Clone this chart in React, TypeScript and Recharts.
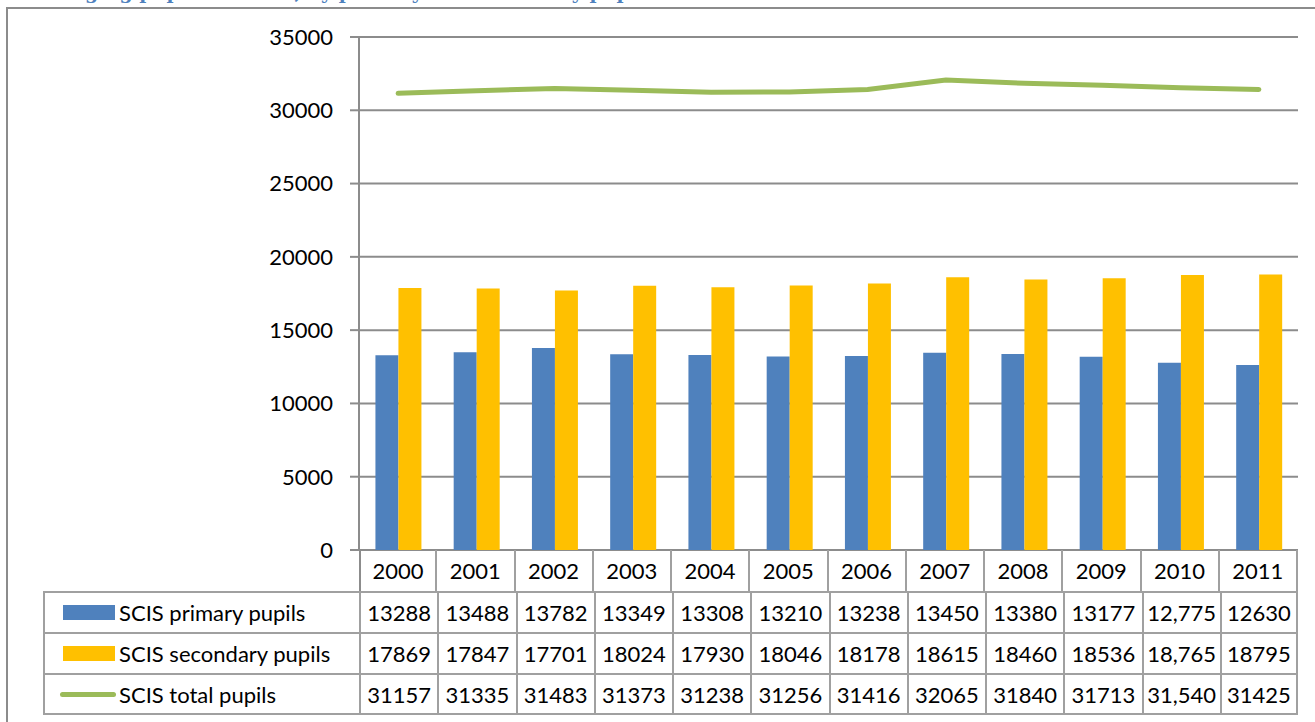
import React from "react";
import { ComposedChart, Bar, Line, XAxis, YAxis, CartesianGrid } from "recharts";

const years = ["2000", "2001", "2002", "2003", "2004", "2005", "2006", "2007", "2008", "2009", "2010", "2011"];
const primaryPupils = [13288, 13488, 13782, 13349, 13308, 13210, 13238, 13450, 13380, 13177, 12775, 12630];
const secondaryPupils = [17869, 17847, 17701, 18024, 17930, 18046, 18178, 18615, 18460, 18536, 18765, 18795];
const totalPupils = [31157, 31335, 31483, 31373, 31238, 31256, 31416, 32065, 31840, 31713, 31540, 31425];
// the source table printed these years with a thousands separator
const commaYears = ["2010"];
const yTicks = [0, 5000, 10000, 15000, 20000, 25000, 30000, 35000];

const seriesRows = [
  { name: "SCIS primary pupils", values: primaryPupils, color: "#4F81BD", kind: "bar" },
  { name: "SCIS secondary pupils", values: secondaryPupils, color: "#FFC000", kind: "bar" },
  { name: "SCIS total pupils", values: totalPupils, color: "#9BBB59", kind: "line" },
];

const data = years.map((year, i) => ({
  year,
  primary: primaryPupils[i],
  secondary: secondaryPupils[i],
  total: totalPupils[i],
}));

const FONT = "Lato, 'Open Sans', sans-serif";
const GRID = "#8c8c8c";
const CELL = "#a0a0a0";
const TABLE_FONT = 22;

const plotLeft = 359;
const plotRight = 1298;
const colW = (plotRight - plotLeft) / years.length;
const tableLeft = 43;
const rowTops = [550, 591, 632, 673, 715];

function fmt(v: number, year: string) {
  return commaYears.includes(year) ? v.toLocaleString("en-US") : String(v);
}

function DataTable() {
  const cells: React.ReactNode[] = [];
  // header row with years
  years.forEach((y, i) => {
    cells.push(
      <div
        key={"h" + i}
        style={{
          position: "absolute",
          left: plotLeft + i * colW,
          top: rowTops[0],
          width: colW,
          height: rowTops[1] - rowTops[0],
          borderRight: `2px solid ${CELL}`,
          borderLeft: i === 0 ? `2px solid ${GRID}` : undefined,
          boxSizing: "border-box",
          display: "flex",
          alignItems: "center",
          justifyContent: "center",
          fontSize: TABLE_FONT,
        }}
      >
        {y}
      </div>
    );
  });
  seriesRows.forEach((row, r) => {
    const top = rowTops[r + 1];
    const h = rowTops[r + 2] - top;
    cells.push(
      <div
        key={"l" + r}
        style={{
          position: "absolute",
          left: tableLeft,
          top,
          width: plotLeft - tableLeft,
          height: h,
          borderTop: `2px solid ${CELL}`,
          borderLeft: `2px solid ${CELL}`,
          borderBottom: r === 2 ? `2px solid ${CELL}` : undefined,
          boxSizing: "border-box",
          display: "flex",
          alignItems: "center",
          fontSize: TABLE_FONT,
          whiteSpace: "nowrap",
        }}
      >
        {row.kind === "bar" ? (
          <span style={{ display: "inline-block", width: 52, height: 15, background: row.color, marginLeft: 18, marginRight: 4 }} />
        ) : (
          <span style={{ display: "inline-block", width: 56, height: 5, borderRadius: 3, background: row.color, marginLeft: 15, marginRight: 3 }} />
        )}
        {row.name}
      </div>
    );
    years.forEach((y, i) => {
      cells.push(
        <div
          key={"c" + r + "-" + i}
          style={{
            position: "absolute",
            left: plotLeft + i * colW,
            top,
            width: colW,
            height: h,
            borderTop: `2px solid ${CELL}`,
            borderLeft: `2px solid ${CELL}`,
            borderRight: i === years.length - 1 ? `2px solid ${CELL}` : undefined,
            borderBottom: r === 2 ? `2px solid ${CELL}` : undefined,
            boxSizing: "border-box",
            display: "flex",
            alignItems: "center",
            justifyContent: "center",
            fontSize: TABLE_FONT,
          }}
        >
          {fmt(row.values[i], y)}
        </div>
      );
    });
  });
  return <>{cells}</>;
}

export default function App() {
  return (
    <div
      style={{
        position: "absolute",
        left: 0,
        top: 0,
        width: 1315,
        height: 722,
        overflow: "hidden",
        background: "#fff",
        fontFamily: FONT,
        color: "#000",
      }}
    >
      <div
        style={{
          position: "absolute",
          left: 30,
          top: -19,
          fontFamily: "'DejaVu Serif', serif",
          fontWeight: "bold",
          fontSize: 19,
          color: "#4F81BD",
          whiteSpace: "nowrap",
        }}
      >
        Changing pupil numbers, by primary and secondary pupils
      </div>
      <div style={{ position: "absolute", left: 6, top: 8, width: 2, height: 714, background: GRID }} />
      <div style={{ position: "absolute", left: 6, top: 7, width: 1309, height: 2, background: GRID }} />

      <div style={{ position: "absolute", left: 0, top: 0 }}>
        <ComposedChart
          width={1315}
          height={580}
          data={data}
          margin={{ top: 37, right: 1315 - plotRight, bottom: 30, left: 0 }}
          barGap={0}
          barCategoryGap="21%"
        >
          <CartesianGrid horizontal vertical={false} stroke={GRID} strokeWidth={2} />
          <XAxis dataKey="year" hide />
          <YAxis
            width={plotLeft}
            domain={[0, 35000]}
            ticks={yTicks}
            interval={0}
            tickSize={9}
            tickMargin={17}
            axisLine={{ stroke: GRID, strokeWidth: 2 }}
            tickLine={{ stroke: GRID, strokeWidth: 2 }}
            tick={{ fill: "#000", fontSize: 22, fontFamily: FONT }}
          />
          <Bar dataKey="primary" fill="#4F81BD" isAnimationActive={false} />
          <Bar dataKey="secondary" fill="#FFC000" isAnimationActive={false} />
          <Line
            dataKey="total"
            stroke="#9BBB59"
            strokeWidth={5}
            strokeLinecap="round"
            dot={false}
            type="linear"
            isAnimationActive={false}
          />
        </ComposedChart>
      </div>

      <DataTable />
    </div>
  );
}
